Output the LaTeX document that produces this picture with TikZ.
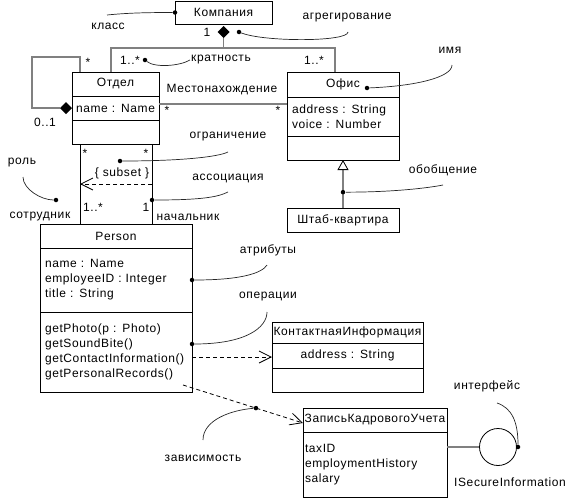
\documentclass[tikz,border=0pt]{standalone}
\usepackage{fontspec}
\setmainfont{Liberation Sans}[LetterSpace=5]
\usetikzlibrary{arrows.meta,positioning,shapes.geometric}

\tikzset{
  cname/.style={draw, line width=0.8pt, inner sep=0pt, outer sep=0pt, align=center},
  cpart/.style={draw, line width=0.8pt, inner ysep=0pt, outer sep=0pt, align=left},
  assoc/.style={draw=gray, line width=1.5pt},
  link/.style={draw, line width=0.8pt},
  dep/.style={draw, line width=0.8pt, dash pattern=on 4pt off 3pt,
    -{Straight Barb[length=12pt,width=12pt,line width=0.8pt]}},
  gen/.style={assoc, -{Triangle[length=10pt,width=11pt,fill=white,color=black,line width=0.8pt]}},
  agg/.style={diamond, fill, inner sep=0pt, outer sep=0pt, minimum width=12pt, minimum height=12pt},
  note/.style={draw=black!85, line width=0.7pt},
  pin/.style={circle, fill, inner sep=0pt, minimum size=4.5pt},
  lbl/.style={inner sep=1pt}
}

\begin{document}
\begin{tikzpicture}[x=1pt, y=-1pt, font=\fontsize{12}{15}\selectfont]
    \useasboundingbox (0,0) rectangle (569,498);

    \node[cname, text width=97pt, minimum height=23pt, anchor=north west] (company) at (175,1) {Компания};
    \node[agg, below=2pt of company] (compagg) {};

    \node[cname, text width=87pt, minimum height=24pt, anchor=north west] (dept) at (72,72) {Отдел};
    \node[cpart, text width=79pt, inner xsep=4pt, minimum height=24pt, below=0pt of dept] (deptattr) {name : Name};
    \node[cpart, text width=79pt, inner xsep=4pt, minimum height=24pt, below=0pt of deptattr] (deptops) {};
    \node[agg, left=0pt of deptattr] (selfagg) {};

    \node[cname, text width=112pt, minimum height=25pt, anchor=north west] (office) at (287,72) {Офис};
    \node[cpart, text width=102pt, inner xsep=5pt, minimum height=39pt, below=0pt of office] (officeattr) {address : String\\voice : Number};
    \node[cpart, text width=102pt, inner xsep=5pt, minimum height=24pt, below=0pt of officeattr] (officeops) {};
    \node[cname, text width=112pt, minimum height=24pt, below=48pt of officeops] (hq) {Штаб-квартира};

    \node[cname, text width=152pt, minimum height=24pt, anchor=north west] (person) at (40,224) {Person};
    \node[cpart, text width=142pt, inner xsep=5pt, minimum height=64pt, below=0pt of person] (personattr)
      {name : Name\\employeeID : Integer\\title : String};
    \node[cpart, text width=142pt, inner xsep=5pt, minimum height=80pt, below=0pt of personattr] (personops)
      {getPhoto(p : Photo)\\getSoundBite()\\getContactInformation()\\getPersonalRecords()};

    \node[cname, text width=151pt, minimum height=21pt, anchor=north west] (contact) at (272,322) {КонтактнаяИнформация};
    \node[cname, text width=151pt, minimum height=25pt, below=0pt of contact] (contactattr) {address : String};
    \node[cname, text width=151pt, minimum height=24pt, below=0pt of contactattr] (contactops) {};

    \node[cname, text width=144pt, minimum height=24pt, anchor=north west] (record) at (303,408) {ЗаписьКадровогоУчета};
    \node[cpart, text width=140pt, inner xsep=2pt, minimum height=65pt, below=0pt of record] (recordattr)
      {taxID\\employmentHistory\\salary};

    \node[circle, draw, line width=0.8pt, minimum size=37pt, inner sep=0pt] (iface) at (498,447) {};
    \node[lbl] (ifacename) at (510,482) {ISecureInformation};

    \coordinate (fork) at (224,48);
    \coordinate (deptup) at ([xshift=-4.5pt]dept.north);
    \coordinate (officeup) at ([xshift=-8pt]office.north);
    \coordinate (selfup) at ([xshift=-35.5pt]dept.north);
    \coordinate (empa) at ([xshift=-35.5pt]deptops.south);
    \coordinate (bossa) at ([xshift=36.5pt]deptops.south);

    \draw[assoc] (compagg) -- (compagg |- fork);
    \draw[assoc] (deptup) |- (fork -| officeup) -- (officeup);
    \draw[assoc] (selfup) -- ++(0,-15) -| ([xshift=-28pt]selfagg.west) -- (selfagg.west);
    \draw[assoc] ([yshift=4pt]deptattr.east) -- ([yshift=4pt]deptattr.east -| officeattr.west);
    \draw[gen] (hq.north) -- (officeops.south) node[pos=0.33, pin] (genpin) {};
    \draw[assoc] (iface.west) -- (iface.west -| recordattr.east);

    \draw[link] (empa) -- (empa |- person.north);
    \draw[link] (bossa) -- (bossa |- person.north) node[pos=0.7, pin] (bosspin) {};
    \draw[dep] ([yshift=-40pt]bossa) -- ([yshift=-40pt]empa);
    \draw[dep] ([yshift=-5pt]personops.east) -- ([yshift=-5pt]personops.east -| contactattr.west);
    \draw[dep] ([xshift=-9pt,yshift=7pt]personops.south east) -- ([yshift=-3pt]record.west)
      node[pos=0.608, pin] (deppin) {};

    \node[lbl] (m1) at (207,32) {1};
    \node[lbl] (m2) at (130,60) {1..*};
    \node[lbl] (m3) at (314,60) {1..*};
    \node[lbl] (m4) at (88,62) {*};
    \node[lbl] (m5) at (45,122) {0..1};
    \node[lbl] (m6) at (167,110) {*};
    \node[lbl] (m7) at (278,110) {*};
    \node[lbl] (m8) at (85,153) {*};
    \node[lbl] (m9) at (146,153) {*};
    \node[lbl] (m10) at (93,207) {1..*};
    \node[lbl] (m11) at (146,207) {1};
    \node[lbl] (assocname) at (222,90) {Местонахождение};
    \node[lbl] (subset) at (122,173) {\{ subset \}};
    \node[lbl] (emprole) at (40,217) {сотрудник};
    \node[lbl] (bossrole) at (188,217) {начальник};

    \node[lbl] (nclass) at (108,26) {класс};
    \node[lbl] (naggr) at (347,18) {агрегирование};
    \node[lbl] (nmult) at (221,60) {кратность};
    \node[lbl] (nname) at (450,50) {имя};
    \node[lbl] (ngen) at (443,170) {обобщение};
    \node[lbl] (nconstr) at (228,137) {ограничение};
    \node[lbl] (nassoc) at (228,178) {ассоциация};
    \node[lbl] (nrole) at (22,163) {роль};
    \node[lbl] (nattr) at (268,250) {атрибуты};
    \node[lbl] (nops) at (268,297) {операции};
    \node[lbl] (ndep) at (203,458) {зависимость};
    \node[lbl] (niface) at (487,386) {интерфейс};

    \node[pin] (classpin) at (company.west) {};
    \node[pin] (aggrpin) at (239,32) {};
    \node[pin] (multpin) at (145,60) {};
    \node[pin] (namepin) at (367,88) {};
    \node[pin] (constrpin) at (120,161) {};
    \node[pin] (rolepin) at (56,200) {};
    \node[pin] (attrpin) at (personattr.east) {};
    \node[pin] (opspin) at ([yshift=8pt]personops.east) {};
    \node[pin] (ifacepin) at (518,447) {};

    \coordinate (classend) at (107,15);
    \coordinate (aggrend) at (348,32);
    \coordinate (nameend) at (452,65);
    \coordinate (genend) at (443,185);
    \coordinate (constrend) at (228,152);
    \coordinate (assocend) at (228,192);
    \coordinate (roleend) at (23,177);
    \coordinate (attrend) at (267,265);
    \coordinate (opsend) at (267,312);
    \coordinate (depend) at (203,440);
    \coordinate (ifaceend) at (497,403);

    \draw[note] (classpin) .. controls +(-30,0) and +(20,-2) .. (classend);
    \draw[note] (aggrpin) .. controls +(25,10) and +(0,10) .. (aggrend);
    \draw[note] (multpin) .. controls +(10,8) and +(-10,6) .. (nmult.west);
    \draw[note] (namepin) .. controls +(50,-2) and +(0,12) .. (nameend);
    \draw[note] (genpin) .. controls +(50,0) and +(-15,3) .. (genend);
    \draw[note] (constrpin) .. controls +(60,0) and +(-10,5) .. (constrend);
    \draw[note] (bosspin) .. controls +(50,0) and +(-10,5) .. (assocend);
    \draw[note] (roleend) .. controls +(0,12) and +(-15,0) .. (rolepin);
    \draw[note] (attrpin) .. controls +(50,0) and +(-5,8) .. (attrend);
    \draw[note] (opspin) .. controls +(55,0) and +(0,15) .. (opsend);
    \draw[note] (depend) .. controls +(0,-20) and +(-25,2) .. (deppin);
    \draw[note] (ifacepin) .. controls +(0,-25) and +(15,5) .. (ifaceend);
\end{tikzpicture}
\end{document}
